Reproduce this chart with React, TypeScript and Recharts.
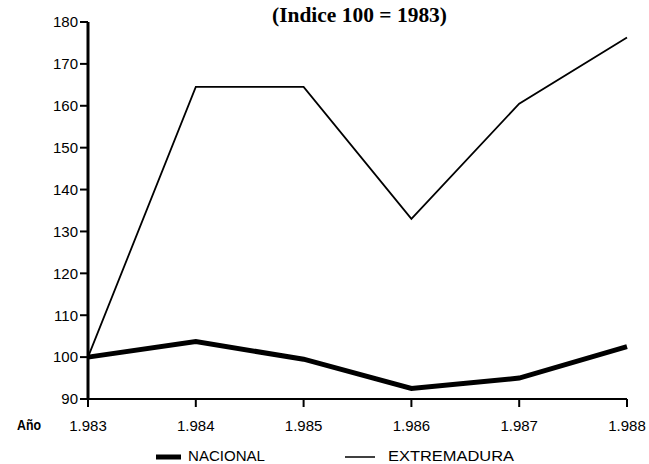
import { LineChart, Line, XAxis, YAxis } from 'recharts';

const years = ['1.983', '1.984', '1.985', '1.986', '1.987', '1.988'];
const nacional = [100, 103.7, 99.5, 92.5, 95, 102.5];
const extremadura = [100, 164.5, 164.5, 133, 160.5, 176.3];
const yTicks = [90, 100, 110, 120, 130, 140, 150, 160, 170, 180];

const data = years.map((year, i) => ({
  year,
  nacional: nacional[i],
  extremadura: extremadura[i],
}));

const sans = 'Liberation Sans, Arial, sans-serif';
const tickStyle = { fill: '#000', fontSize: 15, fontFamily: sans };

export default function App() {
  return (
    <div style={{ position: 'absolute', left: 0, top: 0, width: 649, height: 464, background: '#fff' }}>
      <LineChart width={649} height={464} data={data} margin={{ top: 22, right: 22, bottom: 35, left: 0 }}>
        <XAxis
          dataKey="year"
          padding={{ left: 0, right: 0 }}
          tick={tickStyle}
          tickSize={8}
          tickMargin={13}
          axisLine={{ stroke: '#000', strokeWidth: 2 }}
          tickLine={{ stroke: '#000', strokeWidth: 2 }}
          interval={0}
          height={30}
        />
        <YAxis
          domain={[90, 180]}
          ticks={yTicks}
          type="number"
          width={88}
          tick={tickStyle}
          tickSize={8}
          tickMargin={2}
          axisLine={{ stroke: '#000', strokeWidth: 3 }}
          tickLine={{ stroke: '#000', strokeWidth: 2 }}
          allowDataOverflow
        />
        <Line
          type="linear"
          dataKey="extremadura"
          stroke="#000"
          strokeWidth={1.8}
          dot={false}
          isAnimationActive={false}
        />
        <Line
          type="linear"
          dataKey="nacional"
          stroke="#000"
          strokeWidth={5}
          dot={false}
          isAnimationActive={false}
        />
      </LineChart>
      <svg style={{ position: 'absolute', left: 0, top: 0 }} width={649} height={30}>
        <text
          x={272}
          y={22}
          textLength={175}
          lengthAdjust="spacingAndGlyphs"
          fontSize={22}
          fontWeight="bold"
          fontFamily="Liberation Serif, Times New Roman, serif"
          fill="#000"
        >
          (Indice 100 = 1983)
        </text>
      </svg>
      <svg style={{ position: 'absolute', left: 0, top: 410 }} width={649} height={54}>
        <text x={17} y={20} textLength={24} lengthAdjust="spacingAndGlyphs" fontSize={14} fontWeight="bold" fontFamily={sans} fill="#000">
          Año
        </text>
        <line x1={156} x2={181} y1={47} y2={47} stroke="#000" strokeWidth={5} />
        <text x={188} y={51} textLength={77} lengthAdjust="spacingAndGlyphs" fontSize={14} fontFamily={sans} fill="#000">
          NACIONAL
        </text>
        <line x1={345} x2={375} y1={47} y2={47} stroke="#000" strokeWidth={1.5} />
        <text x={388} y={51} textLength={126} lengthAdjust="spacingAndGlyphs" fontSize={14} fontFamily={sans} fill="#000">
          EXTREMADURA
        </text>
      </svg>
    </div>
  );
}
